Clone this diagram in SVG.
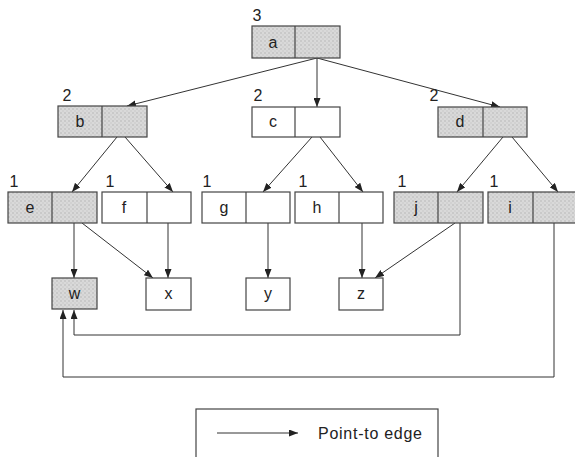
<svg xmlns="http://www.w3.org/2000/svg" width="575" height="457" viewBox="0 0 575 457">
<defs>
<pattern id="stip" width="4" height="4" patternUnits="userSpaceOnUse">
<rect width="4" height="4" fill="#d9d9d9"/>
<circle cx="1" cy="1" r="0.8" fill="#b5b5b5"/>
<circle cx="3" cy="3" r="0.7" fill="#c4c4c4"/>
</pattern>
<marker id="arr" markerWidth="9" markerHeight="7" refX="9" refY="3.5" orient="auto" markerUnits="userSpaceOnUse">
<path d="M0,0 L9,3.5 L0,7 z" fill="#222"/>
</marker>
</defs>
<style>
.box{stroke:#444;stroke-width:1.2;fill:#fff}
.sh{fill:url(#stip)}
.div{stroke:#444;stroke-width:1.2}
.lbl{font-family:"Liberation Sans",Arial,sans-serif;font-size:16px;fill:#222;text-anchor:middle}
.num{font-family:"Liberation Sans",Arial,sans-serif;font-size:16px;fill:#222;text-anchor:middle}
.edge{stroke:#333;stroke-width:1;fill:none;marker-end:url(#arr)}
</style>
<rect width="575" height="457" fill="#fff"/>

<g id="connectors">
<path class="edge" d="M317,58 L127,106"/>
<path class="edge" d="M317,58 L317,107"/>
<path class="edge" d="M317,58 L500,107"/>
<path class="edge" d="M117,137 L72,192"/>
<path class="edge" d="M125,137 L173,192"/>
<path class="edge" d="M312,137 L263,192"/>
<path class="edge" d="M320,137 L363,192"/>
<path class="edge" d="M503,137 L457,192"/>
<path class="edge" d="M512,137 L558,192"/>
<path class="edge" d="M74,223 L74,278"/>
<path class="edge" d="M82,223 L153,278"/>
<path class="edge" d="M168,223 L168,278"/>
<path class="edge" d="M268,223 L268,278"/>
<path class="edge" d="M362,223 L362,278"/>
<path class="edge" d="M455,223 L375,278"/>
<path class="edge" d="M460,223 L460,335 L74,335 L74,310"/>
<path class="edge" d="M554,223 L554,377 L63,377 L63,310"/>
</g>

<g id="node-a">
<rect class="box sh" x="252" y="26" width="88" height="32"/>
<line class="div" x1="295" y1="26" x2="295" y2="58"/>
<text class="lbl" x="273" y="48">a</text>
<text class="num" x="257" y="21">3</text>
</g>
<g id="node-b">
<rect class="box sh" x="58" y="106" width="89" height="31"/>
<line class="div" x1="102" y1="106" x2="102" y2="137"/>
<text class="lbl" x="80" y="127">b</text>
<text class="num" x="67" y="101">2</text>
</g>
<g id="node-c">
<rect class="box" x="252" y="107" width="88" height="30"/>
<line class="div" x1="295" y1="107" x2="295" y2="137"/>
<text class="lbl" x="273" y="127">c</text>
<text class="num" x="258" y="101">2</text>
</g>
<g id="node-d">
<rect class="box sh" x="438" y="107" width="89" height="30"/>
<line class="div" x1="483" y1="107" x2="483" y2="137"/>
<text class="lbl" x="460" y="127">d</text>
<text class="num" x="434" y="101">2</text>
</g>
<g id="node-e">
<rect class="box sh" x="8" y="192" width="89" height="31"/>
<line class="div" x1="52" y1="192" x2="52" y2="223"/>
<text class="lbl" x="30" y="213">e</text>
<text class="num" x="14" y="187">1</text>
</g>
<g id="node-f">
<rect class="box" x="102" y="192" width="89" height="31"/>
<line class="div" x1="147" y1="192" x2="147" y2="223"/>
<text class="lbl" x="124" y="213">f</text>
<text class="num" x="110" y="187">1</text>
</g>
<g id="node-g">
<rect class="box" x="202" y="192" width="88" height="31"/>
<line class="div" x1="246" y1="192" x2="246" y2="223"/>
<text class="lbl" x="224" y="213">g</text>
<text class="num" x="207" y="187">1</text>
</g>
<g id="node-h">
<rect class="box" x="295" y="192" width="88" height="31"/>
<line class="div" x1="339" y1="192" x2="339" y2="223"/>
<text class="lbl" x="317" y="213">h</text>
<text class="num" x="303" y="187">1</text>
</g>
<g id="node-j">
<rect class="box sh" x="394" y="192" width="89" height="31"/>
<line class="div" x1="438" y1="192" x2="438" y2="223"/>
<text class="lbl" x="416" y="213">j</text>
<text class="num" x="402" y="187">1</text>
</g>
<g id="node-i">
<rect class="box sh" x="488" y="192" width="89" height="31"/>
<line class="div" x1="533" y1="192" x2="533" y2="223"/>
<text class="lbl" x="510" y="213">i</text>
<text class="num" x="494" y="187">1</text>
</g>
<g id="node-w">
<rect class="box sh" x="52" y="278" width="45" height="31"/>
<text class="lbl" x="74.5" y="299">w</text>
</g>
<g id="node-x">
<rect class="box" x="146" y="278" width="45" height="32"/>
<text class="lbl" x="168.5" y="299">x</text>
</g>
<g id="node-y">
<rect class="box" x="246" y="278" width="44" height="32"/>
<text class="lbl" x="268" y="299">y</text>
</g>
<g id="node-z">
<rect class="box" x="339" y="278" width="44" height="32"/>
<text class="lbl" x="361" y="299">z</text>
</g>

<g id="legend">
<rect class="box" x="196" y="409" width="242" height="60"/>
<path class="edge" d="M217,433 L298,433"/>
<text x="318" y="439" font-family="'Liberation Sans',Arial,sans-serif" font-size="16" fill="#222" textLength="104">Point-to edge</text>
</g>
</svg>
